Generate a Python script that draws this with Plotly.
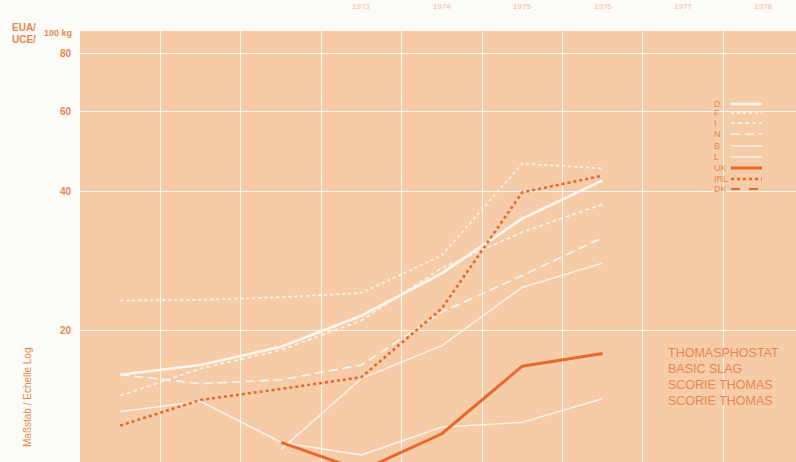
import plotly.graph_objects as go

# ---- data (EUA/UCE per 100 kg, log scale) ----
YEARS = [1970, 1971, 1972, 1973, 1974, 1975, 1976]
D   = [16.0, 16.8, 18.4, 21.5, 26.6, 35.0, 42.4]
F   = [23.2, 23.3, 23.6, 24.1, 29.1, 46.1, 45.0]
I   = [14.4, 16.5, 18.1, 21.0, 27.3, 32.7, 37.6]
N   = [16.0, 15.3, 15.6, 16.8, 21.9, 26.3, 31.8]
B   = [13.3, 14.0, 11.4, 10.7, 12.3, 12.6, 14.2]
L   = [None, None, 11.0, 15.7, 18.5, 24.8, 28.0]
UK  = [None, None, 11.4, 9.9, 11.9, 16.7, 17.8]
IRL = [12.4, 14.1, 14.9, 15.8, 22.3, 39.9, 43.4]
DK  = [None] * 7

Y_TICKS = [20, 40, 60, 80]
TOP_YEARS = [1973, 1974, 1975, 1976, 1977, 1978]
LEGEND_LABELS = ["D", "F", "I", "N", "B", "L", "UK", "IRL", "DK"]
PRODUCT_LINES = ["THOMASPHOSTAT", "BASIC SLAG", "SCORIE THOMAS", "SCORIE THOMAS"]

WHITE = "#fdf6ef"
ORANGE = "#e8692c"
TXT = "#e8874c"
PEACH = "#f6cca8"

W, H = 796, 462
ML, MT = 80, 31
PW, PH = W - ML, H - MT

series = [
    ("D", D, WHITE, 2.6, "solid"),
    ("F", F, WHITE, 1.6, "dot"),
    ("I", I, WHITE, 1.5, "4px,3px"),
    ("N", N, WHITE, 1.6, "9px,5px"),
    ("B", B, WHITE, 1.3, "solid"),
    ("L", L, WHITE, 1.3, "solid"),
    ("UK", UK, ORANGE, 3.0, "solid"),
    ("IRL", IRL, ORANGE, 2.6, "dot"),
    ("DK", DK, ORANGE, 2.0, "dash"),
]

fig = go.Figure()
for name, vals, col, w, dash in series:
    fig.add_trace(go.Scatter(x=YEARS, y=vals, mode="lines", name=name,
                             line=dict(color=col, width=w, dash=dash),
                             connectgaps=False, showlegend=False,
                             cliponaxis=True, hoverinfo="skip"))

def px_x(p):
    return (p - ML) / PW

def px_y(p):
    return (H - p) / PH

shapes = []
annotations = []

# legend (labels left, line samples right)
leg_y = [104, 113, 123, 134, 146, 157, 168, 179, 189]
for (name, vals, col, w, dash), yy in zip(series, leg_y):
    annotations.append(dict(x=px_x(712), y=px_y(yy), xref="paper", yref="paper",
                            text=name, showarrow=False, xanchor="left", yanchor="middle",
                            font=dict(family="Liberation Sans", size=9, color=TXT)))
    shapes.append(dict(type="line", xref="paper", yref="paper",
                       x0=px_x(731), x1=px_x(762), y0=px_y(yy), y1=px_y(yy),
                       line=dict(color=col, width=w, dash=dash)))

# product text block
for k, t in enumerate(PRODUCT_LINES):
    annotations.append(dict(x=px_x(666), y=px_y(353 + k * 16), xref="paper", yref="paper",
                            text=t, showarrow=False, xanchor="left", yanchor="middle",
                            font=dict(family="Liberation Sans", size=12.5, color=TXT)))

# unit label
annotations += [
    dict(x=px_x(10), y=px_y(28), xref="paper", yref="paper", text="<b>EUA/</b>", showarrow=False,
         xanchor="left", yanchor="middle", font=dict(family="Liberation Sans", size=10, color=TXT)),
    dict(x=px_x(10), y=px_y(39), xref="paper", yref="paper", text="<b>UCE/</b>", showarrow=False,
         xanchor="left", yanchor="middle", font=dict(family="Liberation Sans", size=10, color=TXT)),
    dict(x=px_x(42), y=px_y(33), xref="paper", yref="paper", text="<b>100 kg</b>", showarrow=False,
         xanchor="left", yanchor="middle", font=dict(family="Liberation Sans", size=9, color=TXT)),
    dict(x=px_x(27), y=px_y(345), xref="paper", yref="paper", text="Maßstab / Echelle Log",
         showarrow=False, textangle=-90, xanchor="center", yanchor="top",
         font=dict(family="Liberation Sans", size=10, color=TXT)),
]

# year labels at the top edge
for yr in TOP_YEARS:
    annotations.append(dict(x=yr, y=px_y(0), xref="x", yref="paper", text=str(yr),
                            showarrow=False, xanchor="center", yanchor="top",
                            font=dict(family="Liberation Sans", size=8, color="#f2bc98")))

fig.update_layout(
    width=W, height=H,
    margin=dict(l=ML, r=0, t=MT, b=0),
    paper_bgcolor="#fbfbf8",
    plot_bgcolor=PEACH,
    hovermode=False,
    shapes=shapes,
    annotations=annotations,
    xaxis=dict(range=[1969.5, 1969.5 + PW / 80.4], tick0=1969.5, dtick=1,
               showticklabels=False, ticks="", showgrid=True,
               gridcolor="rgba(255,255,255,0.85)", gridwidth=1, zeroline=False,
               showline=False),
    yaxis=dict(type="log", range=[1.0141, 1.9524], tickvals=Y_TICKS,
               ticktext=[f"<b>{v}</b>" for v in Y_TICKS], ticks="",
               showgrid=True, gridcolor="rgba(255,255,255,0.85)", gridwidth=1,
               zeroline=False, showline=False, ticklabelstandoff=8,
               tickfont=dict(family="Liberation Sans", size=10, color=TXT)),
)

fig.write_html("out.html", config={"displayModeBar": False},
               post_script="document.body.style.margin='0';")
